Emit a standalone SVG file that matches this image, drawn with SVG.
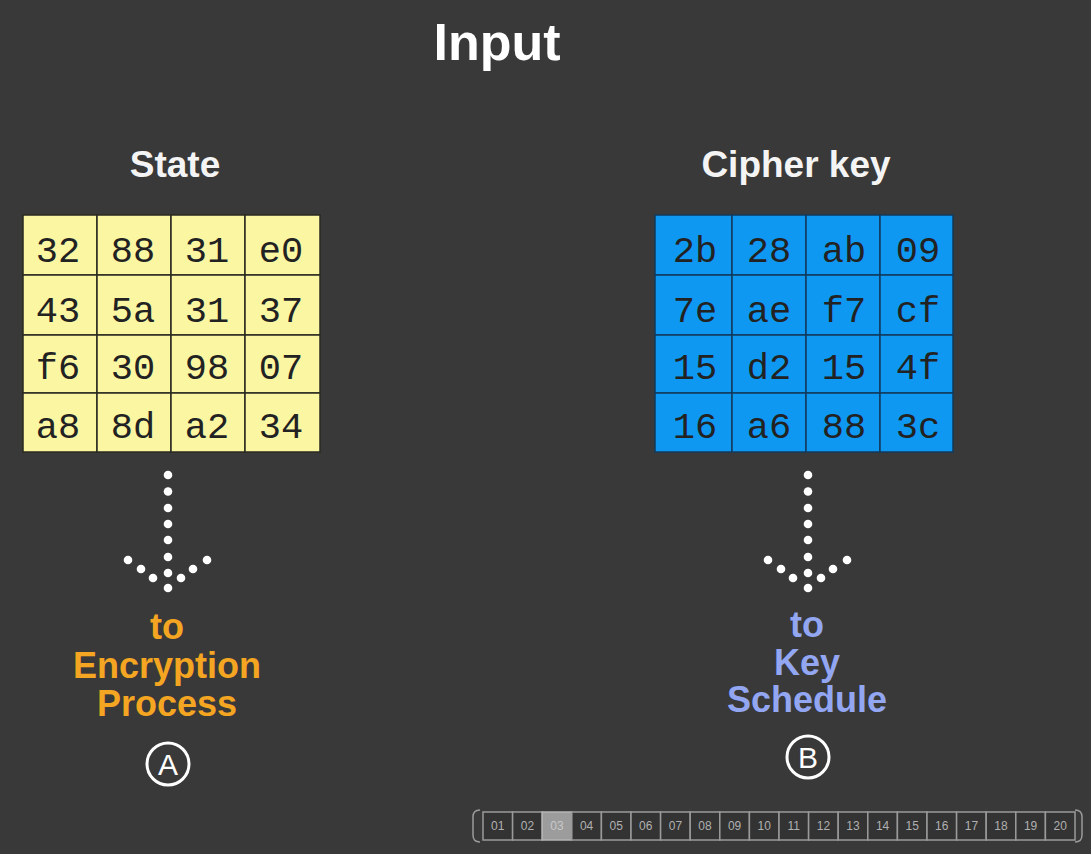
<svg xmlns="http://www.w3.org/2000/svg" width="1091" height="854" viewBox="0 0 1091 854">
  <defs>
    <style>
      .title { font-family: "Liberation Sans", Arial, sans-serif; font-weight: bold; fill: #ffffff; text-anchor: middle; }
      .head { font-family: "Liberation Sans", Arial, sans-serif; font-weight: bold; font-size: 37px; fill: #f4f4f4; text-anchor: middle; }
      .cell-y { fill: #faf6a2; stroke: #2a2a20; stroke-width: 1.5; }
      .cell-b { fill: #0f98f2; stroke: #123a5c; stroke-width: 1.5; }
      .hex { font-family: "Liberation Mono", "Courier New", monospace; font-size: 37px; fill: #222222; text-anchor: middle; }
      .dot { fill: #ffffff; }
      .lbl { font-family: "Liberation Sans", Arial, sans-serif; font-weight: bold; font-size: 36px; text-anchor: middle; }
      .orange { fill: #f4a521; }
      .lblue { fill: #92a6f2; }
      .circ { fill: none; stroke: #ffffff; stroke-width: 3; }
      .circ-t { font-family: "Liberation Sans", Arial, sans-serif; font-size: 30px; fill: #ffffff; text-anchor: middle; }
      .pg { fill: #333333; stroke: #9a9a9a; stroke-width: 1.5; }
      .pg-on { fill: #9c9c9c; stroke: #b5b5b5; stroke-width: 1.5; }
      .pg-t { font-family: "Liberation Sans", Arial, sans-serif; font-size: 12px; fill: #b0b0b0; text-anchor: middle; }
    </style>
    <g id="arrow-dots">
      <circle class="dot" cx="0" cy="0" r="4.3"/>
      <circle class="dot" cx="0" cy="16.5" r="4.3"/>
      <circle class="dot" cx="0" cy="33" r="4.3"/>
      <circle class="dot" cx="0" cy="49" r="4.3"/>
      <circle class="dot" cx="0" cy="65" r="4.3"/>
      <circle class="dot" cx="0" cy="82" r="4.3"/>
      <circle class="dot" cx="0" cy="98" r="4.3"/>
      <circle class="dot" cx="0" cy="113" r="4.3"/>
      <circle class="dot" cx="-40" cy="85" r="4.3"/>
      <circle class="dot" cx="-27" cy="94" r="4.3"/>
      <circle class="dot" cx="-15" cy="103" r="4.3"/>
      <circle class="dot" cx="13" cy="103" r="4.3"/>
      <circle class="dot" cx="25" cy="94" r="4.3"/>
      <circle class="dot" cx="39" cy="85" r="4.3"/>
    </g>
  </defs>

  <rect x="0" y="0" width="1091" height="854" fill="#393939"/>

  <text class="title" x="497" y="60" font-size="52">Input</text>

  <!-- State matrix -->
  <g id="state">
    <text class="head" x="175" y="177">State</text>
    <g>
      <rect class="cell-y" x="23" y="215" width="74" height="60"/>
      <rect class="cell-y" x="97" y="215" width="74" height="60"/>
      <rect class="cell-y" x="171" y="215" width="74" height="60"/>
      <rect class="cell-y" x="245" y="215" width="75" height="60"/>
      <rect class="cell-y" x="23" y="275" width="74" height="60"/>
      <rect class="cell-y" x="97" y="275" width="74" height="60"/>
      <rect class="cell-y" x="171" y="275" width="74" height="60"/>
      <rect class="cell-y" x="245" y="275" width="75" height="60"/>
      <rect class="cell-y" x="23" y="335" width="74" height="58"/>
      <rect class="cell-y" x="97" y="335" width="74" height="58"/>
      <rect class="cell-y" x="171" y="335" width="74" height="58"/>
      <rect class="cell-y" x="245" y="335" width="75" height="58"/>
      <rect class="cell-y" x="23" y="393" width="74" height="59"/>
      <rect class="cell-y" x="97" y="393" width="74" height="59"/>
      <rect class="cell-y" x="171" y="393" width="74" height="59"/>
      <rect class="cell-y" x="245" y="393" width="75" height="59"/>
    </g>
    <g class="hex">
      <text x="58" y="262">32</text><text x="133" y="262">88</text><text x="207" y="262">31</text><text x="281" y="262">e0</text>
      <text x="58" y="322">43</text><text x="133" y="322">5a</text><text x="207" y="322">31</text><text x="281" y="322">37</text>
      <text x="58" y="379">f6</text><text x="133" y="379">30</text><text x="207" y="379">98</text><text x="281" y="379">07</text>
      <text x="58" y="438">a8</text><text x="133" y="438">8d</text><text x="207" y="438">a2</text><text x="281" y="438">34</text>
    </g>
  </g>

  <!-- Cipher key matrix -->
  <g id="cipher-key">
    <text class="head" x="796" y="177">Cipher key</text>
    <g>
      <rect class="cell-b" x="655" y="215" width="77" height="60"/>
      <rect class="cell-b" x="732" y="215" width="74" height="60"/>
      <rect class="cell-b" x="806" y="215" width="74" height="60"/>
      <rect class="cell-b" x="880" y="215" width="73" height="60"/>
      <rect class="cell-b" x="655" y="275" width="77" height="60"/>
      <rect class="cell-b" x="732" y="275" width="74" height="60"/>
      <rect class="cell-b" x="806" y="275" width="74" height="60"/>
      <rect class="cell-b" x="880" y="275" width="73" height="60"/>
      <rect class="cell-b" x="655" y="335" width="77" height="58"/>
      <rect class="cell-b" x="732" y="335" width="74" height="58"/>
      <rect class="cell-b" x="806" y="335" width="74" height="58"/>
      <rect class="cell-b" x="880" y="335" width="73" height="58"/>
      <rect class="cell-b" x="655" y="393" width="77" height="59"/>
      <rect class="cell-b" x="732" y="393" width="74" height="59"/>
      <rect class="cell-b" x="806" y="393" width="74" height="59"/>
      <rect class="cell-b" x="880" y="393" width="73" height="59"/>
    </g>
    <g class="hex">
      <text x="695" y="262">2b</text><text x="769" y="262">28</text><text x="844" y="262">ab</text><text x="918" y="262">09</text>
      <text x="695" y="322">7e</text><text x="769" y="322">ae</text><text x="844" y="322">f7</text><text x="918" y="322">cf</text>
      <text x="695" y="379">15</text><text x="769" y="379">d2</text><text x="844" y="379">15</text><text x="918" y="379">4f</text>
      <text x="695" y="438">16</text><text x="769" y="438">a6</text><text x="844" y="438">88</text><text x="918" y="438">3c</text>
    </g>
  </g>

  <!-- dotted arrows -->
  <g id="connectors">
    <use href="#arrow-dots" x="168" y="475"/>
    <use href="#arrow-dots" x="808" y="475"/>
  </g>

  <g id="to-encryption">
    <text class="lbl orange" x="167" y="639">to</text>
    <text class="lbl orange" x="167" y="678">Encryption</text>
    <text class="lbl orange" x="167" y="716">Process</text>
    <circle class="circ" cx="168" cy="764" r="21"/>
    <text class="circ-t" x="168" y="775">A</text>
  </g>

  <g id="to-key-schedule">
    <text class="lbl lblue" x="807" y="637">to</text>
    <text class="lbl lblue" x="807" y="675">Key</text>
    <text class="lbl lblue" x="807" y="712">Schedule</text>
    <circle class="circ" cx="808" cy="757" r="21"/>
    <text class="circ-t" x="808" y="768">B</text>
  </g>

  <!-- slide progress bar -->
  <g id="progress">
    <path d="M480 810 Q473 810 473 817 L473 835 Q473 842 480 842" fill="none" stroke="#9a9a9a" stroke-width="1.5"/>
    <path d="M1075 810 Q1082 810 1082 817 L1082 835 Q1082 842 1075 842" fill="none" stroke="#9a9a9a" stroke-width="1.5"/>
    <rect class="pg" x="483" y="812" width="29.6" height="28"/>
    <rect class="pg" x="512.6" y="812" width="29.6" height="28"/>
    <rect class="pg-on" x="542.2" y="812" width="29.6" height="28"/>
    <rect class="pg" x="571.8" y="812" width="29.6" height="28"/>
    <rect class="pg" x="601.4" y="812" width="29.6" height="28"/>
    <rect class="pg" x="631" y="812" width="29.6" height="28"/>
    <rect class="pg" x="660.6" y="812" width="29.6" height="28"/>
    <rect class="pg" x="690.2" y="812" width="29.6" height="28"/>
    <rect class="pg" x="719.8" y="812" width="29.6" height="28"/>
    <rect class="pg" x="749.4" y="812" width="29.6" height="28"/>
    <rect class="pg" x="779" y="812" width="29.6" height="28"/>
    <rect class="pg" x="808.6" y="812" width="29.6" height="28"/>
    <rect class="pg" x="838.2" y="812" width="29.6" height="28"/>
    <rect class="pg" x="867.8" y="812" width="29.6" height="28"/>
    <rect class="pg" x="897.4" y="812" width="29.6" height="28"/>
    <rect class="pg" x="927" y="812" width="29.6" height="28"/>
    <rect class="pg" x="956.6" y="812" width="29.6" height="28"/>
    <rect class="pg" x="986.2" y="812" width="29.6" height="28"/>
    <rect class="pg" x="1015.8" y="812" width="29.6" height="28"/>
    <rect class="pg" x="1045.4" y="812" width="29.6" height="28"/>
    <g class="pg-t">
      <text x="497.8" y="830">01</text>
      <text x="527.4" y="830">02</text>
      <text x="557" y="830" fill="#c8c8c8">03</text>
      <text x="586.6" y="830">04</text>
      <text x="616.2" y="830">05</text>
      <text x="645.8" y="830">06</text>
      <text x="675.4" y="830">07</text>
      <text x="705" y="830">08</text>
      <text x="734.6" y="830">09</text>
      <text x="764.2" y="830">10</text>
      <text x="793.8" y="830">11</text>
      <text x="823.4" y="830">12</text>
      <text x="853" y="830">13</text>
      <text x="882.6" y="830">14</text>
      <text x="912.2" y="830">15</text>
      <text x="941.8" y="830">16</text>
      <text x="971.4" y="830">17</text>
      <text x="1001" y="830">18</text>
      <text x="1030.6" y="830">19</text>
      <text x="1060.2" y="830">20</text>
    </g>
  </g>
</svg>
